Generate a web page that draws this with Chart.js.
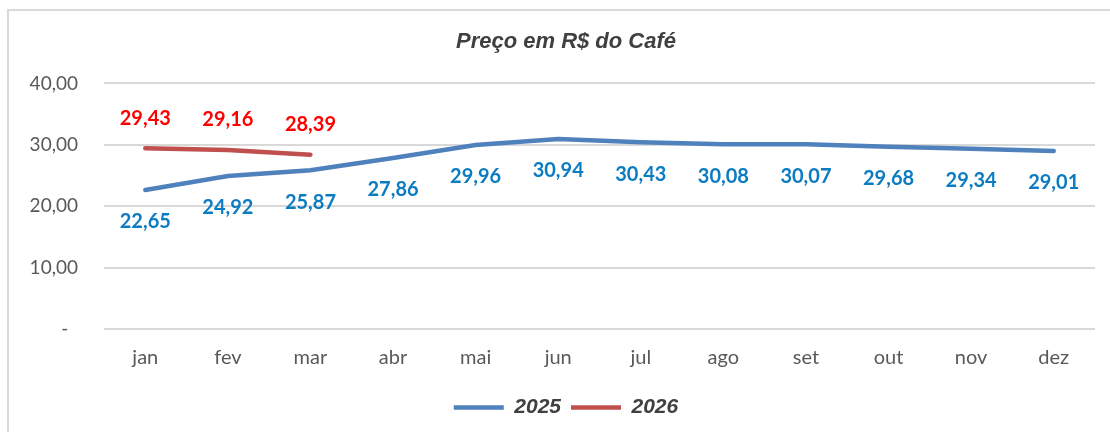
<!DOCTYPE html>
<html>
<head>
<meta charset="utf-8">
<script src="https://cdn.jsdelivr.net/npm/chart.js@4"></script>
<style>
  html, body { margin: 0; padding: 0; background: #fff; overflow: hidden; }
  #wrap { width: 1124px; height: 432px; position: relative; }
</style>
</head>
<body>
<div id="wrap"><canvas id="mainChart"></canvas></div>
<script>
const meses = ['jan', 'fev', 'mar', 'abr', 'mai', 'jun', 'jul', 'ago', 'set', 'out', 'nov', 'dez'];
const preco2025 = [22.65, 24.92, 25.87, 27.86, 29.96, 30.94, 30.43, 30.08, 30.07, 29.68, 29.34, 29.01];
const preco2026 = [29.43, 29.16, 28.39, null, null, null, null, null, null, null, null, null];
const yTicks = [0, 10, 20, 30, 40];

function formatBR(v) {
    return v.toFixed(2).replace('.', ',');
}

// borda cinza do grafico (estilo Excel)
const bordaPlugin = {
    id: 'borda',
    beforeDraw(chart) {
        const ctx = chart.ctx;
        ctx.save();
        ctx.strokeStyle = '#d9d9d9';
        ctx.lineWidth = 2;
        ctx.beginPath();
        ctx.moveTo(8, 440);
        ctx.lineTo(8, 10);
        ctx.lineTo(1130, 10);
        ctx.stroke();
        ctx.restore();
    }
};

// rotulos dos valores: 2025 abaixo, 2026 acima
const rotulosPlugin = {
    id: 'rotulos',
    afterDatasetsDraw(chart) {
        const ctx = chart.ctx;
        ctx.save();
        ctx.font = 'bold 20px Lato, "Open Sans", sans-serif';
        ctx.textAlign = 'center';
        ctx.textBaseline = 'middle';
        chart.data.datasets.forEach((ds, i) => {
            const meta = chart.getDatasetMeta(i);
            meta.data.forEach((pt, j) => {
                const v = ds.data[j];
                if (v === null || v === undefined) return;
                ctx.fillStyle = ds.labelColor;
                ctx.fillText(formatBR(v), pt.x, pt.y + ds.labelOffset);
            });
        });
        ctx.restore();
    }
};

const ctx = document.getElementById('mainChart').getContext('2d');
const mainChart = new Chart(ctx, {
    type: 'line',
    data: {
        labels: meses,
        datasets: [{
            label: '2025',
            data: preco2025,
            borderColor: '#4f81bd',
            backgroundColor: '#4f81bd',
            borderWidth: 4.5,
            borderCapStyle: 'round',
            pointRadius: 0,
            tension: 0,
            labelColor: '#0b7cc1',
            labelOffset: 32
        },
        {
            label: '2026',
            data: preco2026,
            borderColor: '#c0504d',
            backgroundColor: '#c0504d',
            borderWidth: 4.5,
            borderCapStyle: 'round',
            pointRadius: 0,
            tension: 0,
            spanGaps: false,
            labelColor: '#ff0000',
            labelOffset: -30
        }]
    },
    options: {
        responsive: true,
        maintainAspectRatio: false,
        animation: false,
        layout: {
            padding: { left: 8, right: 0, top: 10, bottom: 4 }
        },
        scales: {
            x: {
                offset: true,
                grid: { display: false, drawTicks: false },
                border: { display: false },
                ticks: {
                    color: '#595959',
                    font: { family: 'Lato, "Open Sans", sans-serif', size: 20 },
                    padding: 17
                }
            },
            y: {
                min: 0,
                max: 40,
                afterBuildTicks(scale) {
                    scale.ticks = yTicks.map(v => ({ value: v }));
                },
                afterFit(scale) {
                    scale.width = 96;
                },
                grid: { color: '#d9d9d9', lineWidth: 2, drawTicks: false },
                border: { display: false },
                ticks: {
                    color: '#595959',
                    font: { family: 'Lato, "Open Sans", sans-serif', size: 19 },
                    padding: 26,
                    callback: function(v) {
                        return v === 0 ? '-  ' : formatBR(v);
                    }
                }
            },
            // eixo vazio so para reservar a margem direita
            yMargem: {
                position: 'right',
                min: 0,
                max: 1,
                grid: { display: false, drawTicks: false },
                border: { display: false },
                ticks: { display: false },
                afterFit(scale) {
                    scale.width = 29;
                }
            }
        },
        plugins: {
            title: {
                display: true,
                text: 'Preço em R$ do Café',
                color: '#404040',
                font: { family: '"Liberation Sans", Arial, sans-serif', size: 22, weight: 'bold', style: 'italic' },
                padding: { top: 19, bottom: 28 }
            },
            legend: {
                position: 'bottom',
                labels: {
                    color: '#404040',
                    usePointStyle: true,
                    pointStyle: 'line',
                    pointStyleWidth: 50,
                    boxHeight: 4,
                    padding: 10,
                    font: { family: '"Liberation Sans", Arial, sans-serif', size: 21, weight: 'bold', style: 'italic' }
                }
            },
            tooltip: { enabled: false }
        }
    },
    plugins: [bordaPlugin, rotulosPlugin]
});
</script>
</body>
</html>
